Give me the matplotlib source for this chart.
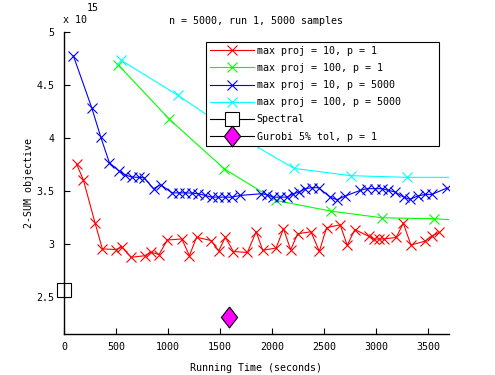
import numpy as np
import matplotlib
matplotlib.use("Agg")
import matplotlib.pyplot as plt

# values in units of 1e15
red_t = [122, 186, 298, 369, 496, 558, 645, 775, 837, 914, 994, 1133, 1206, 1275,
         1415, 1487, 1552, 1629, 1764, 1848, 1911, 2040, 2111, 2180, 2247, 2375,
         2456, 2525, 2656, 2724, 2797, 2929, 2986, 3032, 3073, 3195, 3263, 3337,
         3470, 3542, 3611]
red_y = [3.750, 3.603, 3.198, 2.951, 2.945, 2.967, 2.872, 2.886, 2.920, 2.898,
         3.035, 3.045, 2.888, 3.061, 3.030, 2.931, 3.061, 2.926, 2.917, 3.114,
         2.938, 2.959, 3.142, 2.942, 3.094, 3.113, 2.928, 3.151, 3.179, 2.985,
         3.134, 3.071, 3.044, 3.044, 3.044, 3.059, 3.193, 2.988, 3.023, 3.075,
         3.106]

green_t = [523, 1013, 1543, 2037, 2567, 3058, 3554, 3750]
green_y = [4.688, 4.176, 3.706, 3.409, 3.308, 3.245, 3.236, 3.225]

blue_t = [90, 267, 353, 436, 529, 587, 650, 717, 770, 861, 929, 1039, 1102, 1165,
          1227, 1290, 1357, 1420, 1485, 1550, 1614, 1694, 1896, 1951, 2014, 2079,
          2143, 2207, 2262, 2320, 2384, 2448, 2560, 2625, 2704, 2849, 2913, 2993,
          3058, 3121, 3186, 3266, 3330, 3400, 3474, 3539, 3683]
blue_y = [4.776, 4.283, 4.009, 3.766, 3.687, 3.651, 3.630, 3.627, 3.622, 3.520,
          3.558, 3.480, 3.480, 3.480, 3.478, 3.472, 3.456, 3.440, 3.440, 3.440,
          3.440, 3.456, 3.472, 3.463, 3.440, 3.440, 3.440, 3.472, 3.488, 3.520,
          3.529, 3.529, 3.440, 3.416, 3.450, 3.504, 3.520, 3.520, 3.520, 3.504,
          3.488, 3.440, 3.419, 3.450, 3.466, 3.466, 3.526]

cyan_t = [546, 1094, 1651, 2211, 2757, 3296, 3750]
cyan_y = [4.735, 4.403, 4.034, 3.712, 3.643, 3.627, 3.627]

spectral_t, spectral_y = [0], [2.563]
gurobi_t, gurobi_y = [1585], [2.311]

font = 'DejaVu Sans Mono'
plt.rcParams['font.family'] = font
plt.rcParams['font.size'] = 7.2

fig = plt.figure(figsize=(4.95, 3.75), dpi=100)
ax = fig.add_axes([64/495, 41/375, 384.7/495, 302/375])

lw = 0.8
ms = 7
ax.plot(red_t, red_y, '-x', color='#ff0000', lw=lw, ms=ms, mew=0.8,
        label='max proj = 10, p = 1')
ax.plot(green_t, green_y, '-x', color='#00ff00', lw=lw, ms=ms, mew=0.8,
        markevery=list(range(len(green_t) - 1)), label='max proj = 100, p = 1')
ax.plot(blue_t, blue_y, '-x', color='#0000ff', lw=lw, ms=ms, mew=0.8,
        label='max proj = 10, p = 5000')
ax.plot(cyan_t, cyan_y, '-x', color='#00ffff', lw=lw, ms=ms, mew=0.8,
        markevery=list(range(len(cyan_t) - 1)), label='max proj = 100, p = 5000')
ax.plot(spectral_t, spectral_y, '-s', color='k', lw=lw, ms=10.5, mfc='white',
        mec='k', mew=0.8, clip_on=False, label='Spectral')
diamond = [(0, 1), (0.78, 0), (0, -1), (-0.78, 0), (0, 1)]
ax.plot(gurobi_t, gurobi_y, '-', marker=diamond, color='k', lw=lw, ms=15,
        mfc='#ff00ff', mec='k', mew=0.8, clip_on=False,
        label='Gurobi 5% tol, p = 1')

ax.set_xlim(0, 3700)
ax.set_ylim(2.147, 5.0)
ax.set_xticks(np.arange(0, 3501, 500))
ax.set_yticks([2.5, 3, 3.5, 4, 4.5, 5])
ax.set_yticklabels(['2.5', '3', '3.5', '4', '4.5', '5'])
ax.spines['top'].set_visible(False)
ax.spines['right'].set_visible(False)
for s in ['left', 'bottom']:
    ax.spines[s].set_linewidth(1.0)
ax.tick_params(direction='in', length=4, width=0.8, pad=6)
ax.tick_params(axis='y', pad=7)

ax.set_title('n = 5000, run 1, 5000 samples', fontsize=7.2, pad=6)
ax.set_xlabel('Running Time (seconds)', labelpad=8)
ax.set_ylabel('2-SUM objective', labelpad=2)
fig.text(63/495, 1 - 20/375, 'x 10', ha='left', va='center')
fig.text(87/495, 1 - 8/375, '15', ha='left', va='center')

leg = ax.legend(loc='upper left', bbox_to_anchor=(0.368, 0.629, 0.6076, 0.339),
                mode='expand', numpoints=1, handlelength=4.4, handletextpad=0.3,
                borderaxespad=0, fancybox=False, edgecolor='k', framealpha=1,
                labelspacing=0.72, borderpad=0.4)
leg.get_frame().set_linewidth(0.8)

fig.savefig('out.png', dpi=100)
